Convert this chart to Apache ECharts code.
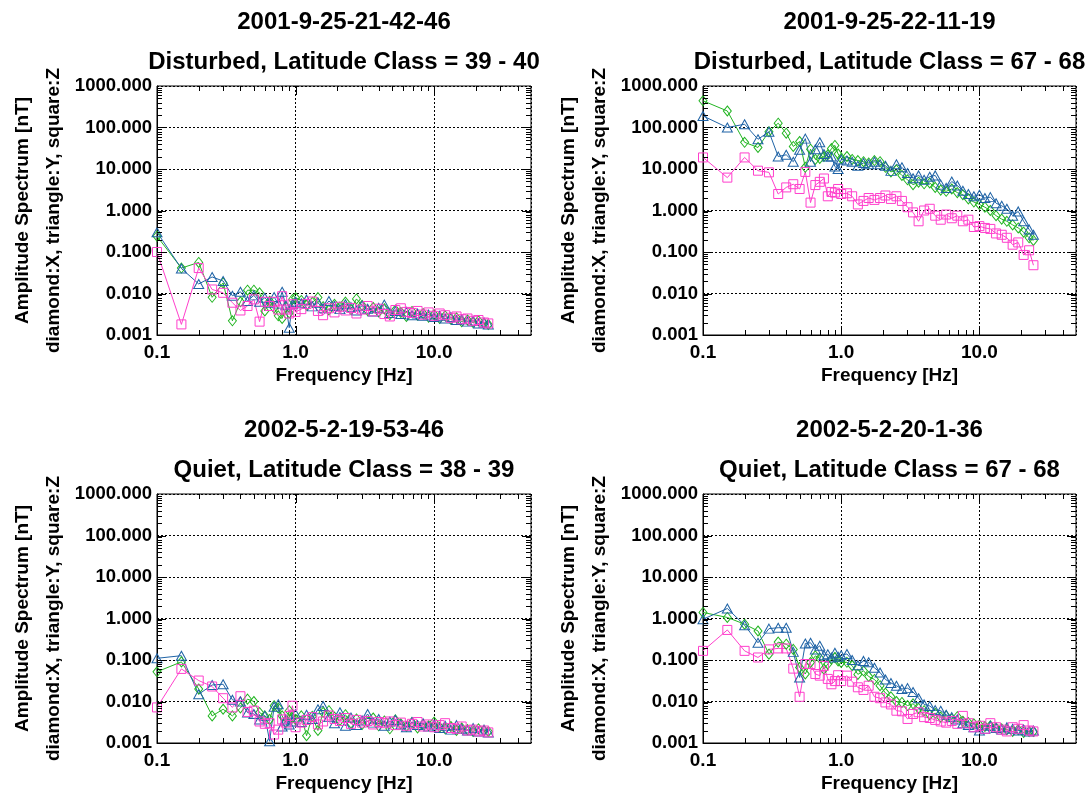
<!DOCTYPE html>
<html>
<head>
<meta charset="utf-8">
<script src="https://cdn.jsdelivr.net/npm/echarts@6/dist/echarts.min.js"></script>
<style>
html,body{margin:0;padding:0;background:#fff;}
#chart{width:1090px;height:794px;}
</style>
</head>
<body>
<div id="chart"></div>
<script>
// ---------------- DATA ----------------
const freq = [0.10,0.15,0.20,0.25,0.30,0.35,0.40,0.45,0.50,0.55,0.60,0.65,0.70,0.75,0.80,0.85,0.90,0.95,1.00,
  1.10,1.20,1.32,1.45,1.58,1.74,1.91,2.09,2.29,2.51,2.75,3.02,3.31,3.63,3.98,4.37,4.79,5.25,5.75,6.31,6.92,7.59,8.32,9.12,10.0,10.96,12.0,13.2,14.5,15.8,17.4,19.1,20.9,22.9,24.6];

const titleDates = ['2001-9-25-21-42-46','2001-9-25-22-11-19','2002-5-2-19-53-46','2002-5-2-20-1-36'];
const titleClasses = ['Disturbed, Latitude Class = 39 - 40','Disturbed, Latitude Class = 67 - 68','Quiet, Latitude Class = 38 - 39','Quiet, Latitude Class = 67 - 68'];

// Panel 1 (top-left)
const p1X = [0.24,0.041,0.056,0.0081,0.018,0.0022,0.0063,0.012,0.012,0.0104,0.0038,0.0065,0.0045,0.0029,0.0025,0.0047,0.0034,0.0072,0.0079,
  0.0068,0.0052,0.0061,0.0080,0.0048,0.0040,0.0055,0.0047,0.0062,0.0041,0.0074,0.0052,0.0039,0.0046,0.0036,0.0043,0.0031,0.0040,0.0035,0.0028,0.0037,0.0030,0.0033,0.0027,0.0031,0.0025,0.0029,0.0024,0.0026,0.0021,0.0023,0.0020,0.0022,0.0019,0.0018];
const p1Y = [0.30,0.040,0.017,0.025,0.020,0.0088,0.011,0.0066,0.009,0.0063,0.0079,0.006,0.0082,0.0057,0.011,0.0052,0.0015,0.0055,0.0063,
  0.0058,0.0071,0.0049,0.0060,0.0044,0.0066,0.0050,0.0042,0.0055,0.0047,0.0039,0.0051,0.0043,0.0037,0.0045,0.0054,0.0034,0.0038,0.0032,0.0036,0.0030,0.0033,0.0029,0.0031,0.0027,0.0029,0.0025,0.0027,0.0023,0.0024,0.0021,0.0022,0.0019,0.0020,0.0018];
const p1Z = [0.10,0.0018,0.041,0.0125,0.0104,0.006,0.0039,0.005,0.0072,0.0021,0.0063,0.005,0.0063,0.0041,0.0086,0.0041,0.0033,0.0055,0.0036,
  0.0042,0.0056,0.0064,0.0038,0.0030,0.0044,0.0035,0.0048,0.0039,0.0045,0.0033,0.0041,0.0050,0.0037,0.0043,0.0032,0.0028,0.0040,0.0044,0.0036,0.0034,0.0038,0.0031,0.0035,0.0029,0.0033,0.0030,0.0026,0.0028,0.0024,0.0025,0.0022,0.0023,0.0020,0.0019];

// Panel 2 (top-right)
const p2X = [440,250,44,33,79,127,73,35,46,11,30,17,18,20,22,31,37,23,18,
  20,17,16,15,14,16,15,11,8.5,9.5,7.0,5.5,4.2,4.8,4.4,4.6,3.6,3.1,2.9,3.3,2.7,2.4,1.9,1.6,1.4,1.2,1.0,0.75,0.62,0.55,0.45,0.38,0.30,0.22,0.19];
const p2Y = [190,100,120,52,79,20,22,15,29,54,15,30,44,23,20,20,11.5,10,17,
  16,15,12,14,13,15,13,12,9,13,11,8,6,7,5.5,6.5,7,4.2,3.5,5.0,4.0,3.0,2.5,2.2,2.4,2.0,2.1,1.5,1.3,1.1,0.75,0.95,0.55,0.35,0.26];
const p2Z = [19,6.2,19,9.1,8.3,2.5,3.6,4.3,3.3,8.5,1.55,4.1,4.9,5.9,2.2,2.8,2.7,3.3,2.5,
  2.6,2.2,1.4,1.7,2.0,1.8,2.0,2.3,1.9,2.2,1.7,1.2,0.9,0.55,1.0,1.1,0.75,0.6,0.8,0.65,0.75,0.55,0.60,0.40,0.42,0.38,0.36,0.28,0.26,0.22,0.15,0.17,0.085,0.11,0.048];

// Panel 3 (bottom-left)
const p3X = [0.052,0.09,0.02,0.0045,0.0065,0.0045,0.007,0.0114,0.01,0.0054,0.0045,0.0037,0.0079,0.007,0.0045,0.0031,0.006,0.004,0.0037,
  0.0045,0.0015,0.0044,0.0020,0.0055,0.0060,0.0042,0.0035,0.0048,0.0030,0.0038,0.0028,0.0033,0.0040,0.0026,0.0034,0.0022,0.0036,0.0029,0.0025,0.0031,0.0023,0.0028,0.0026,0.0032,0.0024,0.0022,0.0025,0.0020,0.0023,0.0021,0.0019,0.0022,0.0020,0.0019];
const p3Y = [0.11,0.127,0.015,0.025,0.026,0.011,0.010,0.0054,0.005,0.0037,0.0045,0.0011,0.0075,0.0086,0.0025,0.0037,0.0028,0.0033,0.005,
  0.0032,0.0048,0.0038,0.0065,0.0078,0.0042,0.0030,0.0055,0.0026,0.0041,0.0027,0.0035,0.0050,0.0031,0.0038,0.0026,0.0033,0.0036,0.0028,0.0024,0.0032,0.0027,0.0030,0.0025,0.0028,0.0023,0.0026,0.0021,0.0027,0.0022,0.0020,0.0023,0.0019,0.0021,0.0018];
const p3Z = [0.0072,0.061,0.032,0.023,0.012,0.0072,0.0134,0.0056,0.006,0.0033,0.0029,0.003,0.0016,0.0021,0.0037,0.0031,0.0045,0.0079,0.0024,
  0.0031,0.0036,0.0042,0.0028,0.0033,0.0046,0.0038,0.0034,0.0040,0.0029,0.0036,0.0031,0.0034,0.0028,0.0032,0.0030,0.0033,0.0027,0.0031,0.0026,0.0029,0.0032,0.0025,0.0028,0.0024,0.0027,0.0030,0.0023,0.0022,0.0025,0.0020,0.0021,0.0019,0.0020,0.0018];

// Panel 4 (bottom-right)
const p4X = [1.4,1.06,0.73,0.5,0.138,0.27,0.24,0.18,0.066,0.046,0.087,0.126,0.11,0.06,0.08,0.105,0.115,0.095,0.087,
  0.088,0.073,0.045,0.055,0.040,0.034,0.024,0.016,0.013,0.010,0.0095,0.0080,0.0088,0.0068,0.0060,0.0048,0.0052,0.0042,0.0045,0.0038,0.0043,0.0033,0.0031,0.0029,0.0027,0.0025,0.0026,0.0023,0.0022,0.0021,0.0019,0.0021,0.0018,0.0019,0.0019];
const p4Y = [0.96,1.74,0.69,0.26,0.57,0.6,0.6,0.157,0.038,0.25,0.26,0.18,0.22,0.13,0.138,0.115,0.15,0.12,0.13,
  0.14,0.10,0.075,0.095,0.088,0.065,0.050,0.034,0.028,0.024,0.020,0.021,0.017,0.012,0.0085,0.0078,0.0062,0.0060,0.0048,0.0042,0.0037,0.0030,0.0027,0.0024,0.0020,0.0022,0.0026,0.0023,0.0021,0.0024,0.0022,0.0020,0.0021,0.0019,0.0020];
const p4Z = [0.166,0.53,0.166,0.115,0.18,0.19,0.19,0.062,0.013,0.08,0.08,0.046,0.042,0.072,0.035,0.026,0.031,0.043,0.031,
  0.042,0.030,0.022,0.019,0.024,0.013,0.012,0.0095,0.0085,0.0060,0.0058,0.0038,0.0050,0.0055,0.0042,0.0040,0.0036,0.0033,0.0031,0.0034,0.0029,0.0045,0.0030,0.0024,0.0026,0.0022,0.0030,0.0024,0.0021,0.0019,0.0024,0.0022,0.0027,0.0020,0.0019];

const panelX = [p1X, p2X, p3X, p4X];
const panelY = [p1Y, p2Y, p3Y, p4Y];
const panelZ = [p1Z, p2Z, p3Z, p4Z];

// Axis ticks
const xTickValues = [0.1, 1, 10];
const xTickLabels = ['0.1', '1.0', '10.0'];
const yTickValues = [0.001, 0.01, 0.1, 1, 10, 100, 1000];
const yTickLabels = ['0.001', '0.010', '0.100', '1.000', '10.000', '100.000', '1000.000'];
const xMinorTicks = [0.2,0.3,0.4,0.5,0.6,0.7,0.8,0.9,2,3,4,5,6,7,8,9,20,30,40];
const xMajorTicks = [1, 10];
const yMinorTicks = [0.002,0.003,0.004,0.005,0.006,0.007,0.008,0.009,
  0.02,0.03,0.04,0.05,0.06,0.07,0.08,0.09,
  0.2,0.3,0.4,0.5,0.6,0.7,0.8,0.9,
  2,3,4,5,6,7,8,9,
  20,30,40,50,60,70,80,90,
  200,300,400,500,600,700,800,900];
const yMajorTicks = [0.01, 0.1, 1, 10, 100];

// ---------------- STYLE / LAYOUT ----------------
const FONT = '"Liberation Sans", Arial, Helvetica, sans-serif';
const colX = '#22b522';
const colY = '#1f63a6';
const colZ = '#ff3fcc';
const grids = [
  {left: 157, top: 86, width: 374, height: 249},
  {left: 703, top: 86, width: 373, height: 249},
  {left: 157, top: 494, width: 374, height: 249},
  {left: 703, top: 494, width: 373, height: 249}
];

function labelFor(v, vals, labels) {
  for (let i = 0; i < vals.length; i++) {
    if (Math.abs(Math.log10(v) - Math.log10(vals[i])) < 0.01) return labels[i];
  }
  return '';
}

function tickRenderer(dir) {
  return function (params, api) {
    const cs = params.coordSys;
    const p = api.coord([api.value(0), api.value(1)]);
    const len = api.value(2) ? 9 : 5;
    const st = {stroke: '#000', lineWidth: 1};
    let lines;
    if (dir === 'x') {
      const x = Math.round(p[0]) + 0.5;
      lines = [
        {x1: x, y1: cs.y + cs.height, x2: x, y2: cs.y + cs.height - len},
        {x1: x, y1: cs.y, x2: x, y2: cs.y + len}
      ];
    } else {
      const y = Math.round(p[1]) + 0.5;
      lines = [
        {x1: cs.x, y1: y, x2: cs.x + len, y2: y},
        {x1: cs.x + cs.width, y1: y, x2: cs.x + cs.width - len, y2: y}
      ];
    }
    return {type: 'group', children: lines.map(s => ({type: 'line', shape: s, style: st}))};
  };
}

const option = {
  animation: false,
  backgroundColor: '#fff',
  title: [],
  grid: grids.map(g => Object.assign({show: true, borderColor: '#000', borderWidth: 1, backgroundColor: 'transparent'}, g)),
  xAxis: [],
  yAxis: [],
  series: [],
  graphic: []
};

grids.forEach((g, i) => {
  const cx = g.left + g.width / 2;
  option.title.push({
    text: titleDates[i], left: cx, top: g.top - 76, textAlign: 'center', padding: 0,
    textStyle: {fontFamily: FONT, fontWeight: 'bold', fontSize: 24, color: '#000'}
  });
  option.title.push({
    text: titleClasses[i], left: cx, top: g.top - 36, textAlign: 'center', padding: 0,
    textStyle: {fontFamily: FONT, fontWeight: 'bold', fontSize: 24, color: '#000'}
  });
  option.xAxis.push({
    type: 'log', logBase: 10, gridIndex: i, min: 0.1, max: 50, interval: 1,
    name: 'Frequency [Hz]', nameLocation: 'middle', nameGap: 31,
    nameTextStyle: {fontFamily: FONT, fontWeight: 'bold', fontSize: 19, color: '#000'},
    axisLine: {show: true, lineStyle: {color: '#000', width: 1}},
    axisTick: {show: false},
    axisLabel: {
      show: true, margin: 8, color: '#000', fontFamily: FONT, fontWeight: 'bold', fontSize: 19,
      showMinLabel: true, showMaxLabel: false,
      formatter: v => labelFor(v, xTickValues, xTickLabels)
    },
    splitLine: {show: true, lineStyle: {color: '#000', type: [2, 2], width: 1}}
  });
  option.yAxis.push({
    type: 'log', logBase: 10, gridIndex: i, min: 0.001, max: 1000, interval: 1,
    axisLine: {show: true, lineStyle: {color: '#000', width: 1}},
    axisTick: {show: false},
    axisLabel: {
      show: true, margin: 5, color: '#000', fontFamily: FONT, fontWeight: 'bold', fontSize: 18.5,
      showMinLabel: true, showMaxLabel: true,
      formatter: v => labelFor(v, yTickValues, yTickLabels)
    },
    splitLine: {show: true, lineStyle: {color: '#000', type: [2, 2], width: 1}}
  });
  // y-axis titles (two rotated lines)
  const cy = g.top + g.height / 2;
  option.graphic.push({
    type: 'text', x: g.left - 134, y: cy, rotation: Math.PI / 2,
    style: {text: 'Amplitude Spectrum [nT]', align: 'center', verticalAlign: 'middle',
      font: 'bold 19px ' + FONT, fill: '#000'}
  });
  option.graphic.push({
    type: 'text', x: g.left - 103, y: cy, rotation: Math.PI / 2,
    style: {text: 'diamond:X, triangle:Y, square:Z', align: 'center', verticalAlign: 'middle',
      font: 'bold 19px ' + FONT, fill: '#000'}
  });

  const mk = (vals, color, symbol, size, name) => ({
    type: 'line', name: name, xAxisIndex: i, yAxisIndex: i,
    data: freq.map((f, k) => [f, vals[k]]),
    symbol: symbol, symbolSize: size, showSymbol: true,
    lineStyle: {color: color, width: 1},
    itemStyle: {color: 'rgba(0,0,0,0)', borderColor: color, borderWidth: 1},
    emphasis: {disabled: true},
    clip: true, z: 3
  });
  option.series.push(mk(panelX[i], colX, 'diamond', [8, 10], 'X'));
  option.series.push(mk(panelY[i], colY, 'triangle', [10, 9], 'Y'));
  option.series.push(mk(panelZ[i], colZ, 'rect', 9, 'Z'));

  // minor / major ticks drawn through the axis scales
  option.series.push({
    type: 'custom', xAxisIndex: i, yAxisIndex: i, silent: true, z: 4,
    renderItem: tickRenderer('x'),
    data: xMinorTicks.map(v => [v, 1, 0]).concat(xMajorTicks.map(v => [v, 1, 1]))
  });
  option.series.push({
    type: 'custom', xAxisIndex: i, yAxisIndex: i, silent: true, z: 4,
    renderItem: tickRenderer('y'),
    data: yMinorTicks.map(v => [1, v, 0]).concat(yMajorTicks.map(v => [1, v, 1]))
  });
});

const chart = echarts.init(document.getElementById('chart'), null, {renderer: 'canvas'});
chart.setOption(option);
</script>
</body>
</html>
